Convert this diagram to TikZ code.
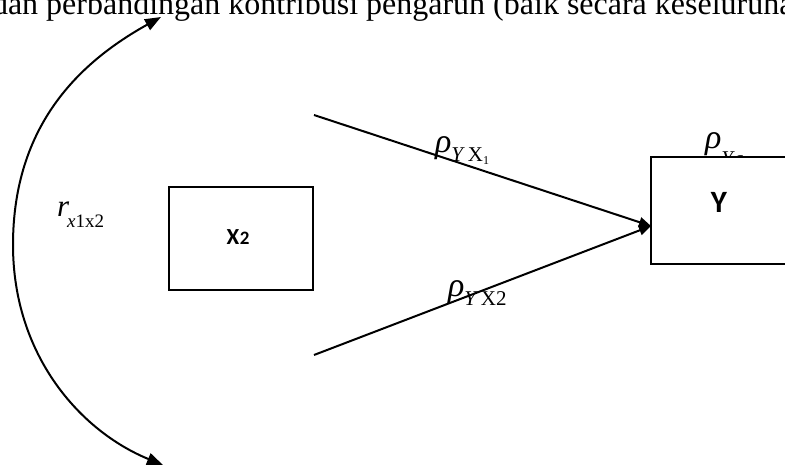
\documentclass[tikz,border=0pt]{standalone}
\usepackage{fontspec}
\setmainfont{Liberation Serif}
\newfontfamily\carl{Carlito}
\usetikzlibrary{arrows.meta}
\begin{document}
\begin{tikzpicture}[x=1pt,y=-1pt,
  box/.style={draw, line width=1.3pt, fill=white, inner sep=0},
  conn/.style={line width=2pt, -{Triangle[length=12pt,width=10pt]}},
  corr/.style={line width=2pt, {Triangle[length=16pt,width=12pt]}-{Triangle[length=16pt,width=12pt]}},
  lab/.style={anchor=base west, inner sep=0, outer sep=0},
  boxtext/.style={inner sep=0, font=\carl\bfseries}]
\useasboundingbox (0,0) rectangle (785,468);
\clip (0,0) rectangle (785,468);
\fill[white] (0,0) rectangle (785,468);
% top line of running text (cut off)
\node[lab] (toptext) at (-8,15) {\fontsize{32}{32}\selectfont dan perbandingan kontribusi pengaruh (baik secara keseluruhan};
% correlation arc
\coordinate (ctop) at (161,17);
\coordinate (cbot) at (163,465);
\draw[corr] (ctop) .. controls (80,62) and (13,125) .. (13,245) .. controls (13,355) and (80,431) .. (cbot);
\node[lab] (rxx) at (57,217) {\fontsize{31}{31}\selectfont\textit{r}\hspace{-2pt}\raisebox{-10pt}{\fontsize{19}{19}\selectfont\textit{x}1x2}};
% X2 box
\node[box, minimum width=144pt, minimum height=103pt] (x2) at (241,238.5) {};
\node[boxtext, anchor=base] (x2t) at (238,244) {\fontsize{23}{23}\selectfont X\hspace{0.5pt}\fontsize{19}{19}\selectfont 2};
% Y box label (partly hidden)
\node[lab] (rhoe) at (705,149) {\fontsize{34}{34}\selectfont\textit{ρ}\raisebox{-17pt}{\fontsize{21}{21}\selectfont\textit{Y}\textit{ε}}};
% Y box
\node[box, minimum width=149pt, minimum height=107pt] (y) at (725.5,210.5) {};
\node[boxtext, anchor=base] (yt) at (719,212) {\fontsize{31}{31}\selectfont Y};
% connectors
\coordinate (s1) at (314,115);
\coordinate (s2) at (314,355);
\coordinate (yin) at (651,226);
\draw[conn] (s1) -- (yin);
\draw[conn] (s2) -- (yin);
\node[lab] (rho1) at (435,153) {\fontsize{34}{34}\selectfont\textit{ρ}\raisebox{-9pt}{\fontsize{21}{21}\selectfont\textit{Y}\hspace{3pt}X\raisebox{-3pt}{\fontsize{12}{12}\selectfont 1}}};
\node[lab] (rho2) at (448,296) {\fontsize{34}{34}\selectfont\textit{ρ}\raisebox{-9pt}{\fontsize{21}{21}\selectfont\textit{Y}\hspace{3pt}X2}};
\end{tikzpicture}
\end{document}
